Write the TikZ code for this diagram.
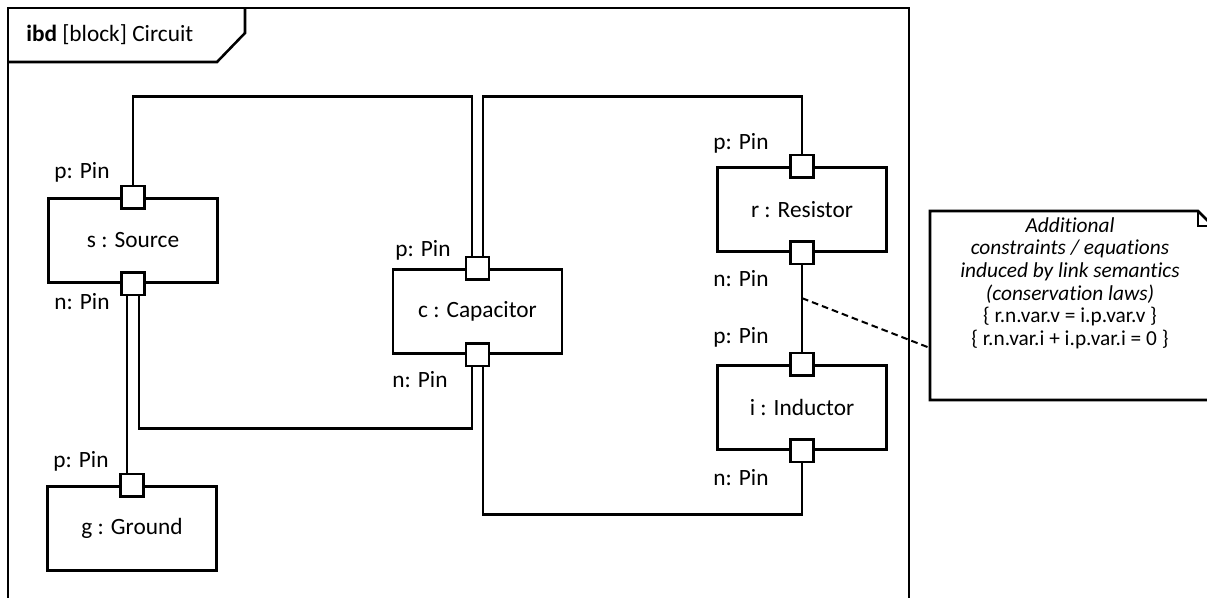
\documentclass[tikz,border=0pt]{standalone}
\usepackage{fontspec}
\setmainfont{Carlito}[Ligatures=NoCommon]
\usetikzlibrary{calc,positioning}

\begin{document}
\begin{tikzpicture}[x=0.75pt,y=-0.75pt,
    line/.style={draw=black,line width=1.9pt},
    block/.style={line,rectangle,minimum width=127pt,minimum height=63pt,inner sep=0pt,font=\fontsize{17.5}{21}\selectfont},
    port/.style={line,fill=white,rectangle,minimum size=17pt,inner sep=0pt},
    wire/.style={line},
    pinlbl/.style={font=\fontsize{17.5}{21}\selectfont,inner sep=0pt},
    notetxt/.style={font=\fontsize{16}{16}\selectfont\itshape,align=center,inner sep=0pt},
    anchorline/.style={draw=black,line width=1.5pt,dash pattern=on 5pt off 3pt}]
    \useasboundingbox (0,0) rectangle (1207,597);
    \clip (0,0) rectangle (1207,597);
    % Draw the frame
    \draw[line] (8,8) rectangle (909,640);
    \draw[line] (8,62) -- (217,62) -- (245,33) -- (245,8);
    \node[pinlbl,anchor=west] (title) at (26,35) {\textbf{ibd} [block] Circuit};
    % Draw the blocks
    \node[block] (s) at (133,240.5) {s : Source};
    \node[block] (c) at (477.5,311.5) {c : Capacitor};
    \node[block] (r) at (802,209.5) {r : Resistor};
    \node[block] (i) at (802,407.5) {i : Inductor};
    \node[block] (g) at (132,528.5) {g : Ground};
    % ports
    \node[port] (sp) at (s.north) {};
    \node[port] (sn) at (s.south) {};
    \node[port] (cp) at (c.north) {};
    \node[port] (cn) at (c.south) {};
    \node[port] (rp) at (r.north) {};
    \node[port] (rn) at (r.south) {};
    \node[port] (ip) at (i.north) {};
    \node[port] (in) at (i.south) {};
    \node[port] (gp) at (g.north) {};
    % port names
    \node[pinlbl] (splbl) at (82,172) {p: Pin};
    \node[pinlbl] (snlbl) at (82,302) {n: Pin};
    \node[pinlbl] (gplbl) at (81,461) {p: Pin};
    \node[pinlbl] (cplbl) at (423,250) {p: Pin};
    \node[pinlbl] (cnlbl) at (420,380) {n: Pin};
    \node[pinlbl] (rplbl) at (741,143) {p: Pin};
    \node[pinlbl] (rnlbl) at (741,279) {n: Pin};
    \node[pinlbl] (iplbl) at (741,337) {p: Pin};
    \node[pinlbl] (inlbl) at (741,478) {n: Pin};
    % connectors
    \draw[wire] (sp.north) |- ($(cp.north)+(-5.5,-159)$) -- ($(cp.north)+(-5.5,0)$);
    \draw[wire] ($(cp.north)+(5.5,0)$) |- ($(rp.north)+(0,-57)$) -- (rp.north);
    \draw[wire] ($(sn.south)+(-6,0)$) -- ($(gp.north)+(-5,0)$);
    \draw[wire] ($(sn.south)+(6,0)$) |- ($(cn.south)+(-5.5,61)$) -- ($(cn.south)+(-5.5,0)$);
    \draw[wire] ($(cn.south)+(5.5,0)$) |- ($(in.south)+(0,51)$) -- (in.south);
    \draw[wire] (rn.south) -- (ip.north);
    % note
    \draw[line] (930,211) -- (1198,211) -- (1213,226) -- (1213,400) -- (930,400) -- cycle;
    \draw[line] (1198,211) -- (1198,226) -- (1213,226);
    \node[notetxt] (notetxt) at (1070,283) {Additional\\[1pt]constraints / equations\\[1pt]induced by link semantics\\[1pt](conservation laws)\\[1pt]{\upshape\{ r.n.var.v = i.p.var.v \}}\\[1pt]{\upshape\{ r.n.var.i + i.p.var.i = 0 \}}};
    \coordinate (noteend) at (930,348);
    \draw[anchorline] ($(rn.south)!0.38!(ip.north)$) -- (noteend);
\end{tikzpicture}
\end{document}
